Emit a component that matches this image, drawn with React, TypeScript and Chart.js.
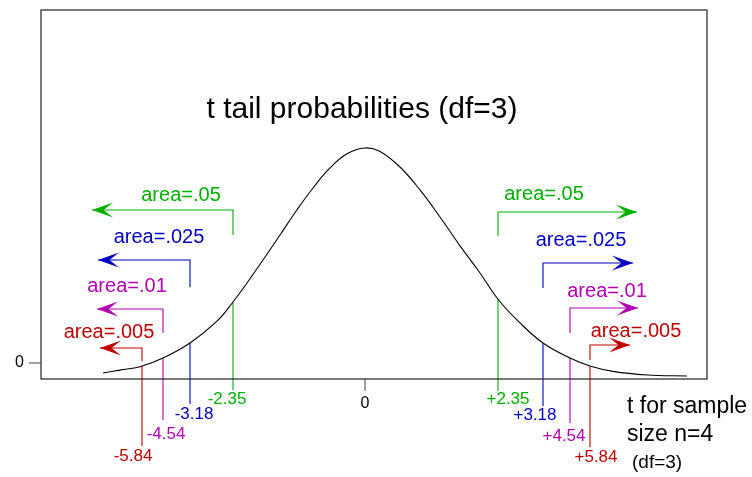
import React, { useEffect, useRef } from "react";
import { Chart, registerables } from "chart.js";

Chart.register(...registerables);

// Schematic curve (x: horizontal offset from centre, y: density-like height)
const curveX = [-262, -245, -225, -202, -175, -148, -132, -118, -102, -85, -68, -52, -35, -18, 0, 15, 35, 55, 75, 95, 115, 133, 155, 178, 205, 225, 248, 282, 322];
const curveY = [-0.0171, -0.0122, -0.0064, 0.0085, 0.0342, 0.0715, 0.1043, 0.1368, 0.1761, 0.2188, 0.262, 0.2992, 0.3334, 0.3576, 0.3676, 0.3617, 0.3351, 0.2958, 0.2496, 0.2003, 0.1539, 0.109, 0.0684, 0.0342, 0.0085, -0.0051, -0.0144, -0.0205, -0.0222];

// Critical values
const critLabels = ["-5.84", "-4.54", "-3.18", "-2.35", "+2.35", "+3.18", "+4.54", "+5.84"];
const critPos = [-223, -202, -175, -132, 133, 178, 205, 225];
const areaLabels = ["area=.005", "area=.01", "area=.025", "area=.05", "area=.05", "area=.025", "area=.01", "area=.005"];
const arrowY = [0.0256, 0.0923, 0.1761, 0.2616, 0.2582, 0.171, 0.094, 0.0308];
const bracketBottom = [0.0034, 0.0513, 0.1299, 0.2188, 0.2171, 0.1282, 0.0513, 0.0051];
const arrowTip = [-265, -268, -267, -273, 272, 268, 273, 265];
const areaLabelX = [-256, -238, -206, -184, 179, 216, 242, 271];
const areaLabelY = [0.0513, 0.1316, 0.2154, 0.2872, 0.2889, 0.2086, 0.1214, 0.053];

const yTickLabels = ["0"];
const xTickLabels = ["0"];
const titleText = "t tail probabilities (df=3)";
const sideText = ["t for sample", "size n=4", "(df=3)"];

const palette = ["#c00000", "#b000b0", "#0000c0", "#00b000", "#00b000", "#0000c0", "#b000b0", "#c00000"];
const FONT = "'Liberation Sans', Arial, Helvetica, sans-serif";

function curveAt(x: number): number {
  for (let i = 0; i < curveX.length - 1; i++) {
    if (x >= curveX[i] && x <= curveX[i + 1]) {
      const t = (x - curveX[i]) / (curveX[i + 1] - curveX[i]);
      return curveY[i] + t * (curveY[i + 1] - curveY[i]);
    }
  }
  return 0;
}

const annotPlugin = {
  id: "annot",
  beforeDatasetsDraw(chart: any) {
    const ctx = chart.ctx as CanvasRenderingContext2D;
    const xs = chart.scales.x;
    const ys = chart.scales.y;
    const lineBottoms = [446, 420, 404, 390, 391, 406, 423, 447];
    ctx.save();
    ctx.lineWidth = 1.1;
    for (let i = 0; i < critPos.length; i++) {
      const px = xs.getPixelForValue(critPos[i]);
      const top = ys.getPixelForValue(curveAt(critPos[i]));
      ctx.strokeStyle = palette[i];
      ctx.beginPath();
      ctx.moveTo(px, top);
      ctx.lineTo(px, lineBottoms[i]);
      ctx.stroke();
      // bracket
      const by = ys.getPixelForValue(arrowY[i]);
      const bb = ys.getPixelForValue(bracketBottom[i]);
      const tip = xs.getPixelForValue(arrowTip[i]);
      ctx.beginPath();
      ctx.moveTo(px, bb);
      ctx.lineTo(px, by);
      ctx.lineTo(tip, by);
      ctx.stroke();
      // arrow head
      const dir = tip < px ? -1 : 1;
      const L = 21, w = 7.5;
      ctx.fillStyle = palette[i];
      ctx.beginPath();
      ctx.moveTo(tip, by);
      ctx.lineTo(tip - dir * L, by - w);
      ctx.lineTo(tip - dir * L * 0.55, by);
      ctx.lineTo(tip - dir * L, by + w);
      ctx.closePath();
      ctx.fill();
    }
    ctx.restore();
  },
  afterDatasetsDraw(chart: any) {
    const ctx = chart.ctx as CanvasRenderingContext2D;
    const xs = chart.scales.x;
    const ys = chart.scales.y;
    const a = chart.chartArea;
    ctx.save();
    // box
    ctx.strokeStyle = "#222";
    ctx.lineWidth = 1.2;
    ctx.strokeRect(a.left, a.top, a.right - a.left, a.bottom - a.top);
    // y tick "0"
    const y0 = ys.getPixelForValue(0);
    ctx.strokeStyle = "#444";
    ctx.lineWidth = 1;
    ctx.beginPath();
    ctx.moveTo(a.left - 12, y0);
    ctx.lineTo(a.left, y0);
    ctx.stroke();
    ctx.fillStyle = "#000";
    ctx.font = `16px ${FONT}`;
    ctx.textAlign = "right";
    ctx.textBaseline = "middle";
    ctx.fillText(yTickLabels[0], a.left - 17, y0);
    // x tick "0"
    const x0 = xs.getPixelForValue(0);
    ctx.beginPath();
    ctx.moveTo(x0, a.bottom);
    ctx.lineTo(x0, a.bottom + 12);
    ctx.stroke();
    ctx.textAlign = "center";
    ctx.font = `16px ${FONT}`;
    ctx.fillText(xTickLabels[0], x0, a.bottom + 25);
    // title
    ctx.font = `30px ${FONT}`;
    ctx.textBaseline = "alphabetic";
    ctx.fillText(titleText, 362, 118);
    // crit labels
    const labelLevels = [456, 434, 414, 399, 399, 415, 436, 457];
    const dx = [-9, 3, 4, -6, 10, -8, -6, 6];
    ctx.textBaseline = "middle";
    for (let i = 0; i < critPos.length; i++) {
      const px = xs.getPixelForValue(critPos[i]);
      ctx.fillStyle = palette[i];
      ctx.font = `17px ${FONT}`;
      ctx.textAlign = "center";
      ctx.fillText(critLabels[i], px + dx[i], labelLevels[i]);
      ctx.font = `20px ${FONT}`;
      ctx.fillText(areaLabels[i], xs.getPixelForValue(areaLabelX[i]), ys.getPixelForValue(areaLabelY[i]));
    }
    // side text
    ctx.fillStyle = "#000";
    ctx.textAlign = "left";
    ctx.textBaseline = "alphabetic";
    ctx.font = `23px ${FONT}`;
    ctx.fillText(sideText[0], 627, 413);
    ctx.fillText(sideText[1], 627, 441);
    ctx.font = `19px ${FONT}`;
    ctx.fillText(sideText[2], 632, 468);
    ctx.restore();
  },
};

export default function App() {
  const ref = useRef<HTMLCanvasElement>(null);
  useEffect(() => {
    document.body.style.margin = "0";
    if (!ref.current) return;
    const chart = new Chart(ref.current, {
      type: "scatter",
      data: {
        datasets: [
          {
            data: curveX.map((x, i) => ({ x, y: curveY[i] })),
            showLine: true,
            borderColor: "#000",
            borderWidth: 1.1,
            pointRadius: 0,
            tension: 0.4,
          } as any,
        ],
      },
      options: {
        animation: false,
        responsive: false,
        devicePixelRatio: 1,
        layout: { padding: { left: 41, right: 45, top: 10, bottom: 98 } },
        plugins: { legend: { display: false }, tooltip: { enabled: false }, title: { display: false } },
        scales: {
          x: { type: "linear", min: -324, max: 342, display: false },
          y: { type: "linear", min: -0.0274, max: 0.6035, display: false },
        },
      },
      plugins: [annotPlugin],
    });
    return () => chart.destroy();
  }, []);
  return (
    <div style={{ position: "absolute", left: 0, top: 0, width: 752, height: 477, background: "#fff" }}>
      <canvas ref={ref} width={752} height={477} />
    </div>
  );
}
